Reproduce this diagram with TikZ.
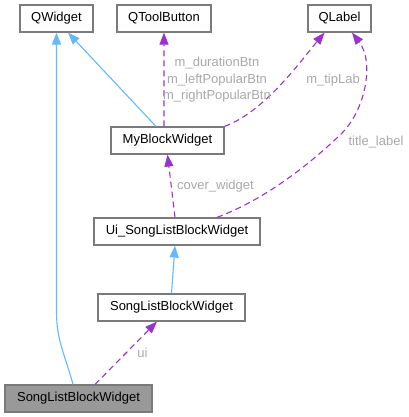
\documentclass[tikz,border=0pt]{standalone}
\usepackage{fontspec}
\setmainfont{Liberation Sans}
\usetikzlibrary{arrows.meta}
\definecolor{boxline}{HTML}{7A7A7A}
\definecolor{inhblue}{HTML}{63B8FF}
\definecolor{usepurple}{HTML}{9A32CD}
\definecolor{lblgray}{HTML}{A8A8A8}
\definecolor{curfill}{HTML}{999999}

\begin{document}
\begin{tikzpicture}[x=1bp, y=1bp, font=\fontsize{13bp}{16.5bp}\selectfont,
  box/.style={draw=boxline, line width=1.2bp, fill=white, minimum height=27bp, inner sep=0pt, align=center},
  inh/.style={draw=inhblue, line width=1.1bp, -{Triangle[length=12bp, width=9bp]}},
  use/.style={draw=usepurple, line width=1.1bp, dash pattern=on 6bp off 4bp, -{Triangle[length=12bp, width=9bp]}},
  lbl/.style={text=lblgray, align=center, inner sep=0pt}]
  \useasboundingbox (0,0) rectangle (409,417);
  \node[box, minimum width=73bp] (qwidget) at (56.5,398.5) {QWidget};
  \node[box, minimum width=94bp] (qtoolbutton) at (164,398.5) {QToolButton};
  \node[box, minimum width=63bp] (qlabel) at (339.5,398.5) {QLabel};
  \node[box, minimum width=113bp] (myblock) at (167.5,276.5) {MyBlockWidget};
  \node[box, minimum width=166bp] (uiblock) at (177,185.5) {Ui\_SongListBlockWidget};
  \node[box, minimum width=147bp] (songmid) at (171.5,109.5) {SongListBlockWidget};
  \node[box, minimum width=147bp, fill=curfill] (songbot) at (78.5,18.5) {SongListBlockWidget};
  \draw[inh] ([xshift=-5.5bp]songbot.north) .. controls +(-8,30) and +(0,-30) .. ++(-16.5,73) -- (qwidget.south);
  \draw[inh] ([xshift=-11.5bp]myblock.north) -- ([xshift=11.5bp]qwidget.south);
  \draw[inh] (songmid.north) -- ([xshift=-2bp]uiblock.south);
  \draw[use] ([xshift=-3.5bp]myblock.north) -- (qtoolbutton.south);
  \draw[use] (myblock.north east) .. controls +(40,15) and +(-25,-30) .. ([xshift=-15bp]qlabel.south);
  \draw[use] ([xshift=40bp]uiblock.north) .. controls +(53,20) and +(-25,-24) .. (340,282) .. controls +(25,23) and +(23,-30) .. ([xshift=12.5bp]qlabel.south);
  \draw[use] ([xshift=-2bp]uiblock.north) -- (myblock.south);
  \draw[use] ([xshift=16.5bp]songbot.north) -- ([xshift=-14.5bp]songmid.south);
  \node[lbl] (lbtn) at (217,337) {m\_durationBtn\\m\_leftPopularBtn\\m\_rightPopularBtn};
  \node[lbl] (ltip) at (333,337) {m\_tipLab};
  \node[lbl] (ltitle) at (376,275) {title\_label};
  \node[lbl] (lcover) at (215.5,230.5) {cover\_widget};
  \node[lbl] (lui) at (142.5,64) {ui};
\end{tikzpicture}
\end{document}
